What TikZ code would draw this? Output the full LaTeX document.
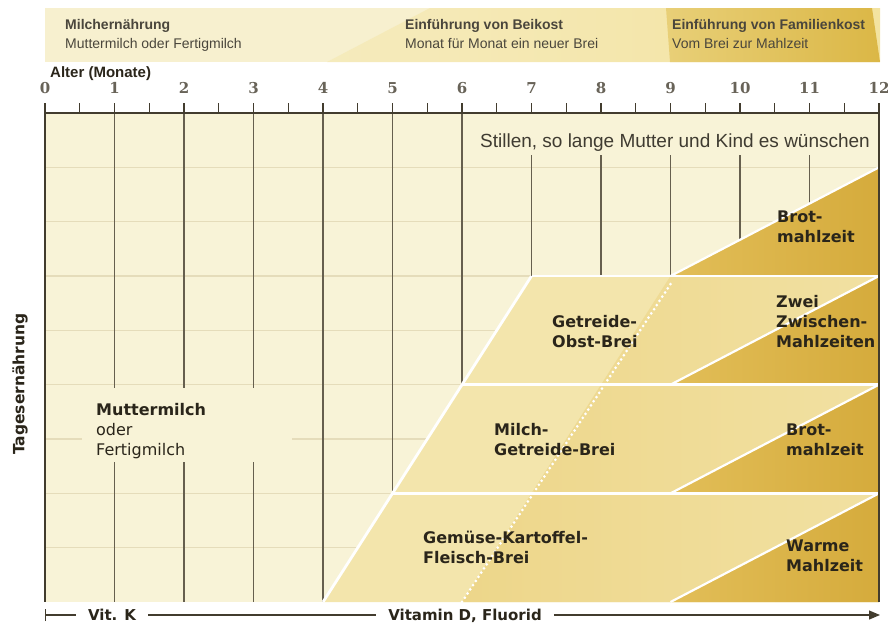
\documentclass[tikz,border=0pt]{standalone}
\usepackage{fontspec}
\setmainfont{Liberation Sans}
\newfontfamily\labelfont{DejaVu Sans}
\newfontfamily\digitfont{DejaVu Serif}
\usetikzlibrary{arrows.meta}

\definecolor{chartbg}{RGB}{248,243,215}
\definecolor{gridline}{RGB}{229,220,186}
\definecolor{monthline}{RGB}{102,95,78}
\definecolor{axisdark}{RGB}{66,60,46}
\definecolor{bandlight}{RGB}{243,229,172}
\definecolor{banddeep}{RGB}{237,214,138}
\definecolor{mealgold}{RGB}{226,190,88}
\definecolor{mealdark}{RGB}{213,171,60}
\definecolor{inkdark}{RGB}{42,37,26}
\definecolor{bannercream}{RGB}{247,240,207}
\definecolor{banneryellow}{RGB}{243,227,160}
\definecolor{bannergold}{RGB}{219,183,70}

\begin{document}
\begin{tikzpicture}[x=1pt, y=-1pt,
    meal/.style = {anchor=base west, align=left, inner sep=0pt, text=inkdark,
        font=\labelfont\bfseries\fontsize{16}{20}\selectfont},
    bannertext/.style = {anchor=base west, align=left, inner sep=0pt, text=inkdark!85,
        font=\fontsize{14}{19}\selectfont},
    monthnum/.style = {inner sep=0pt, text=axisdark!80, font=\digitfont\bfseries\fontsize{15}{15}\selectfont},
    vitamin/.style = {inner xsep=12pt, inner ysep=0pt, text height=11pt, text depth=0pt, text=inkdark,
        font=\labelfont\bfseries\fontsize{15}{15}\selectfont},
    whiteline/.style = {white, line width=2.8pt},
    dotline/.style = {white, line width=3pt, line cap=round, dash pattern=on 0pt off 5pt},
    monthrule/.style = {monthline, line width=1.8pt},
    tick/.style = {axisdark, line width=1.2pt}]

    % Bildgröße festlegen
    \useasboundingbox (0,0) rectangle (888,625);

    % Kopfleiste mit den drei Phasen
    \fill[bannercream] (45,8) rectangle (880,62);
    \shade[left color=banneryellow!40!bannercream, right color=banneryellow] (327,62) -- (430,8) -- (880,8) -- (880,62) -- cycle;
    \shade[left color=banneryellow!55!bannergold, right color=bannergold] (666,8) -- (872,8) -- (880,62) -- (670,62) -- cycle;
    \node[bannertext] (milk head) at (65,48) {\bfseries Milchernährung\\Muttermilch oder Fertigmilch};
    \node[bannertext] (beikost head) at (405,48) {\bfseries Einführung von Beikost\\Monat für Monat ein neuer Brei};
    \node[bannertext] (family head) at (672,48) {\bfseries Einführung von Familienkost\\Vom Brei zur Mahlzeit};

    % Achsenbeschriftung oben
    \node[anchor=base west, inner sep=0pt, text=inkdark, font=\bfseries\fontsize{15}{15}\selectfont] (age) at (50,77) {Alter (Monate)};
    \foreach \m in {0,...,12}
        \node[monthnum] (num\m) at ({45+\m*69.5},88) {\m};

    % Diagramm in Monaten (x) und Zeilen (y)
    \begin{scope}[shift={(45,113)}, x=69.5pt, y=-54.333pt]
        \fill[chartbg] (0,0) rectangle (12,9);
        \foreach \r in {1,...,8}
            \draw[gridline, line width=1.3pt] (0,\r) -- (12,\r);
        \foreach \m in {1,...,6}
            \draw[monthrule] (\m,0) -- (\m,9);
        \foreach \m in {7,...,11}
            \draw[monthrule] (\m,0.78) -- (\m,9);

        % Breie
        \fill[bandlight] (4,9) -- (5,7) -- (6,5) -- (7,3) -- (12,3) -- (12,9) -- cycle;
        \shade[left color=banddeep, right color=bandlight!70!banddeep] (6,9) -- (9,3) -- (12,3) -- (12,9) -- cycle;

        % Mahlzeiten
        \foreach \r in {3,5,7,9}
            \shade[left color=mealgold, right color=mealdark] (9,\r) -- (12,\r-2) -- (12,\r) -- cycle;

        % weiße Trennlinien
        \draw[whiteline] (7,3) -- (12,3);
        \draw[whiteline] (6,5) -- (12,5);
        \draw[whiteline] (5,7) -- (12,7);
        \draw[whiteline] (4,9) -- (5,7) -- (6,5) -- (7,3);
        \foreach \r in {3,5,7,9}
            \draw[whiteline, line width=2.2pt] (9,\r) -- (12,\r-2);
        \draw[dotline] (9,3.15) -- (6,9);

        % Rahmen und Skala
        \draw[axisdark, line width=2.4pt] (0,-0.18) -- (0,9);
        \draw[axisdark, line width=1.8pt] (12,-0.18) -- (12,9);
        \draw[axisdark, line width=1.8pt] (0,0) -- (12,0);
        \foreach \t in {0,0.5,...,12}
            \draw[tick] (\t,0) -- (\t,-0.18);
    \end{scope}

    % Texte im Diagramm
    \node[text=inkdark!90, inner sep=0pt, font=\fontsize{19}{19}\selectfont] (stillen) at (675,143) {Stillen, so lange Mutter und Kind es wünschen};
    \fill[chartbg] (82,388) rectangle (292,462);
    \node[meal] (muttermilch) at (96,455) {Muttermilch\\\mdseries oder\\\mdseries Fertigmilch};
    \node[meal] (gemuese) at (423,563) {Gemüse-Kartoffel-\\Fleisch-Brei};
    \node[meal] (milchbrei) at (494,455) {Milch-\\Getreide-Brei};
    \node[meal] (obstbrei) at (552,347) {Getreide-\\Obst-Brei};
    \node[meal] (brot top) at (777,242) {Brot-\\mahlzeit};
    \node[meal] (zwischen) at (776,347) {Zwei\\Zwischen-\\Mahlzeiten};
    \node[meal] (brot) at (786,455) {Brot-\\mahlzeit};
    \node[meal] (warm) at (786,571) {Warme\\Mahlzeit};

    % senkrechte Achse
    \node[rotate=90, inner sep=0pt, text=inkdark, font=\labelfont\bfseries\fontsize{15.5}{15.5}\selectfont] (tages) at (20,384) {Tagesernährung};

    % Vitamine unten
    \coordinate (vit start) at (45,615);
    \coordinate (vit end) at (880,615);
    \node[vitamin] (vitk) at (112,615) {Vit. K};
    \node[vitamin] (vitd) at (465,615) {Vitamin D, Fluorid};
    \draw[axisdark, line width=1.2pt, {Bar[width=12pt]}-] (vit start) -- (vitk);
    \draw[axisdark, line width=1.2pt] (vitk) -- (vitd);
    \draw[axisdark, line width=1.2pt, -{Triangle[length=11pt, width=9pt]}] (vitd) -- (vit end);
\end{tikzpicture}
\end{document}
